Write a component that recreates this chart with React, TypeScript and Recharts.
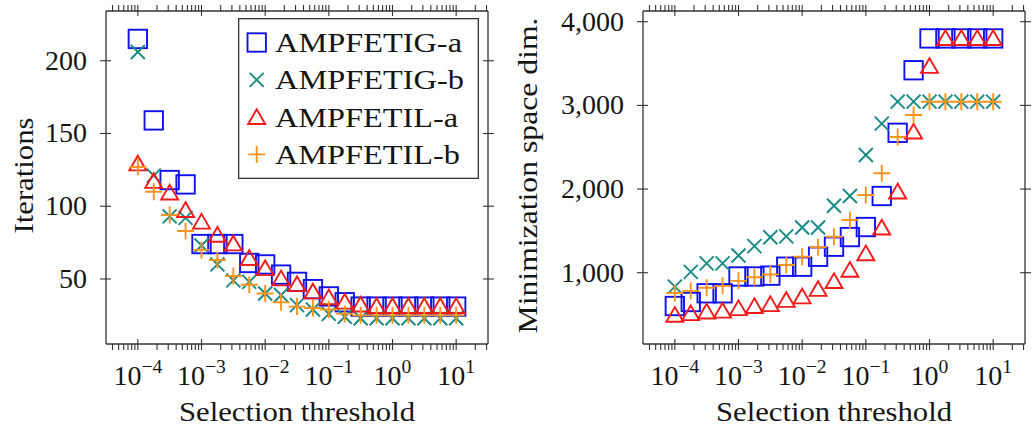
import React from 'react';
import { ScatterChart, Scatter, XAxis, YAxis, Legend, Label } from 'recharts';

// Selection thresholds (quarter-decade steps from 1e-4 to 1e1)
const thresholds = [
  1e-4, 1.778e-4, 3.162e-4, 5.623e-4,
  1e-3, 1.778e-3, 3.162e-3, 5.623e-3,
  1e-2, 1.778e-2, 3.162e-2, 5.623e-2,
  0.1, 0.1778, 0.3162, 0.5623,
  1, 1.778, 3.162, 5.623,
  10,
];

const seriesNames = ['AMPFETIG-a', 'AMPFETIG-b', 'AMPFETIL-a', 'AMPFETIL-b'];

// Iterations
const iterIGa = [215, 159, 118, 115, 74, 74, 74, 61, 60, 53, 48, 43, 38, 34, 31, 31, 31, 31, 31, 31, 31];
const iterIGb = [206, 121, 93, 92, 73, 60, 49, 48, 40, 39, 32, 29, 26, 24, 23, 23, 23, 23, 23, 23, 23];
const iterILa = [128, 116, 108, 96, 88, 79, 73, 63, 56, 49, 45, 40, 36, 33, 31, 30, 30, 30, 30, 30, 30];
const iterILb = [127, 110, 94, 83, 70, 63, 52, 46, 40, 34, 31, 30, 29, 26, 25, 25, 25, 25, 25, 25, 25];

// Minimization space dimension
const dimIGa = [602, 650, 754, 754, 955, 955, 965, 1072, 1072, 1191, 1311, 1426, 1546, 1917, 2672, 3420, 3800, 3800, 3800, 3800, 3800];
const dimIGb = [833, 1010, 1112, 1112, 1206, 1318, 1424, 1434, 1540, 1540, 1800, 1917, 2407, 2781, 3044, 3044, 3044, 3044, 3044, 3044, 3044];
const dimILa = [472, 492, 512, 522, 552, 577, 600, 650, 692, 782, 876, 1010, 1207, 1515, 1945, 2662, 3447, 3780, 3780, 3780, 3780];
const dimILb = [757, 783, 820, 843, 903, 945, 978, 1092, 1191, 1305, 1430, 1630, 1929, 2188, 2622, 2885, 3044, 3044, 3044, 3044, 3044];

// Axis ticks
const xMajorTicks = [1e-4, 1e-3, 1e-2, 1e-1, 1, 10];
const xTickExponents = ['\u22124', '\u22123', '\u22122', '\u22121', '0', '1'];
const xMinorTicks = [
  4e-5, 5e-5, 6e-5, 7e-5, 8e-5, 9e-5,
  2e-4, 3e-4, 4e-4, 5e-4, 6e-4, 7e-4, 8e-4, 9e-4,
  2e-3, 3e-3, 4e-3, 5e-3, 6e-3, 7e-3, 8e-3, 9e-3,
  2e-2, 3e-2, 4e-2, 5e-2, 6e-2, 7e-2, 8e-2, 9e-2,
  0.2, 0.3, 0.4, 0.5, 0.6, 0.7, 0.8, 0.9,
  2, 3, 4, 5, 6, 7, 8, 9,
  20, 30,
];
const iterTicks = [50, 100, 150, 200];
const iterTickLabels = ['50', '100', '150', '200'];
const dimTicks = [1000, 2000, 3000, 4000];
const dimTickLabels = ['1,000', '2,000', '3,000', '4,000'];

const X_DOMAIN: [number, number] = [3.1623e-5, 31.623];
const ITER_DOMAIN: [number, number] = [5.3, 234.2];
const DIM_DOMAIN: [number, number] = [148, 4128];

const FONT = '"Liberation Serif", "Times New Roman", serif';
const AXIS = '#333333';
const TEXT = '#151515';
const FS = 28;
const MAJOR = 11;
const MINOR = 6;

const COLORS = ['#1010ee', '#168a84', '#f01a1a', '#f7941d'];

const toPoints = (vals: number[]) => thresholds.map((x, i) => ({ x, y: vals[i] }));

// ---- markers ----
const SquareMark = ({ cx, cy, color }: any) => (
  <rect x={cx - 9.2} y={cy - 9.2} width={18.4} height={18.4} fill="none" stroke={color} strokeWidth={1.9} />
);
const CrossMark = ({ cx, cy, color }: any) => (
  <path d={`M${cx - 7},${cy - 7}L${cx + 7},${cy + 7}M${cx - 7},${cy + 7}L${cx + 7},${cy - 7}`} stroke={color} strokeWidth={1.9} fill="none" />
);
const TriangleMark = ({ cx, cy, color }: any) => {
  const r = 9.8;
  const h = 0.866 * r;
  return (
    <path d={`M${cx},${cy - r}L${cx + h},${cy + r / 2}L${cx - h},${cy + r / 2}Z`} stroke={color} strokeWidth={1.9} fill="none" strokeLinejoin="miter" />
  );
};
const PlusMark = ({ cx, cy, color }: any) => (
  <path d={`M${cx - 8.5},${cy}L${cx + 8.5},${cy}M${cx},${cy - 8.5}L${cx},${cy + 8.5}`} stroke={color} strokeWidth={1.9} fill="none" />
);
const MARKS = [SquareMark, CrossMark, TriangleMark, PlusMark];

// ---- ticks ----
const BottomTick = ({ x, y, payload }: any) => {
  const idx = xMajorTicks.indexOf(payload.value);
  const major = idx >= 0;
  return (
    <g>
      <line x1={x} x2={x} y1={y} y2={y - (major ? MAJOR : MINOR)} stroke={AXIS} strokeWidth={1.1} />
      {major && (
        <text x={x} y={y + 35} textAnchor="middle" fontFamily={FONT} fontSize={FS} fill={TEXT}>
          10
          <tspan dy={-12} fontSize={FS * 0.7}>{xTickExponents[idx]}</tspan>
        </text>
      )}
    </g>
  );
};
const TopTick = ({ x, y, payload }: any) => {
  const major = xMajorTicks.indexOf(payload.value) >= 0;
  return <line x1={x} x2={x} y1={y} y2={y + (major ? MAJOR : MINOR)} stroke={AXIS} strokeWidth={1.1} />;
};
const makeLeftTick = (ticks: number[], labels: string[]) => ({ x, y, payload }: any) => (
  <g>
    <line x1={x} x2={x + MAJOR} y1={y} y2={y} stroke={AXIS} strokeWidth={1.1} />
    <text x={x - 13} y={y + 9} textAnchor="end" fontFamily={FONT} fontSize={FS} fill={TEXT}>
      {labels[ticks.indexOf(payload.value)]}
    </text>
  </g>
);
const RightTick = ({ x, y }: any) => (
  <line x1={x} x2={x - MAJOR} y1={y} y2={y} stroke={AXIS} strokeWidth={1.1} />
);

const IterLeftTick = makeLeftTick(iterTicks, iterTickLabels);
const DimLeftTick = makeLeftTick(dimTicks, dimTickLabels);

// ---- titles ----
const XTitle = ({ viewBox }: any) => (
  <text x={viewBox.x + viewBox.width / 2} y={viewBox.y + 77} textAnchor="middle" fontFamily={FONT} fontSize={FS} fill={TEXT} textLength={236} lengthAdjust="spacingAndGlyphs">
    Selection threshold
  </text>
);
const makeYTitle = (text: string, baselineX: number, len: number) => ({ viewBox }: any) => {
  const cy = viewBox.y + viewBox.height / 2 - 2;
  return (
    <text x={baselineX} y={cy} transform={`rotate(-90 ${baselineX} ${cy})`} textAnchor="middle" fontFamily={FONT} fontSize={FS} fill={TEXT} textLength={len} lengthAdjust="spacingAndGlyphs">
      {text}
    </text>
  );
};
const IterTitle = makeYTitle('Iterations', 33, 116);
const DimTitle = makeYTitle('Minimization space dim.', 37, 316);

// ---- legend ----
const legendTextWidths = [187, 189, 183, 185];
const LegendBox = () => (
  <svg width={241} height={161} style={{ display: 'block' }}>
    <rect x={0.65} y={0.65} width={239.7} height={159.7} fill="#fff" stroke={AXIS} strokeWidth={1.3} />
    {seriesNames.map((name, i) => {
      const Mark = MARKS[i];
      const rowY = 24.5 + i * 37.3;
      return (
        <g key={name}>
          <Mark cx={18.7} cy={i === 2 ? rowY + 2 : rowY} color={COLORS[i]} />
          <text x={37} y={rowY + 9.5} fontFamily={FONT} fontSize={FS} fill={TEXT} textLength={legendTextWidths[i]} lengthAdjust="spacingAndGlyphs">
            {name}
          </text>
        </g>
      );
    })}
  </svg>
);

type PanelProps = {
  series: number[][];
  yDomain: [number, number];
  yTicks: number[];
  LeftTick: any;
  YTitle: any;
  leftWidth: number;
  rightMargin: number;
  showLegend?: boolean;
};

const Panel = ({ series, yDomain, yTicks, LeftTick, YTitle, leftWidth, rightMargin, showLegend }: PanelProps) => (
  <ScatterChart width={532} height={434} margin={{ top: 10, right: rightMargin, bottom: 0, left: 0 }}>
    <XAxis
      xAxisId="b"
      dataKey="x"
      type="number"
      scale="log"
      domain={X_DOMAIN}
      allowDataOverflow
      ticks={[...xMajorTicks, ...xMinorTicks]}
      interval={0}
      orientation="bottom"
      height={90}
      tickLine={false}
      tickMargin={0}
      tick={BottomTick}
      axisLine={{ stroke: AXIS, strokeWidth: 1.3 }}
    >
      <Label content={XTitle} />
    </XAxis>
    <XAxis
      xAxisId="t"
      dataKey="x"
      type="number"
      scale="log"
      domain={X_DOMAIN}
      allowDataOverflow
      ticks={[...xMajorTicks, ...xMinorTicks]}
      interval={0}
      orientation="top"
      height={1}
      tickLine={false}
      tickMargin={0}
      tick={TopTick}
      axisLine={{ stroke: AXIS, strokeWidth: 1.3 }}
    />
    <YAxis
      yAxisId="l"
      dataKey="y"
      type="number"
      domain={yDomain}
      allowDataOverflow
      ticks={yTicks}
      interval={0}
      orientation="left"
      width={leftWidth}
      tickLine={false}
      tickMargin={0}
      tick={LeftTick}
      axisLine={{ stroke: AXIS, strokeWidth: 1.3 }}
    >
      <Label content={YTitle} />
    </YAxis>
    <YAxis
      yAxisId="r"
      dataKey="y"
      type="number"
      domain={yDomain}
      allowDataOverflow
      ticks={yTicks}
      interval={0}
      orientation="right"
      width={1}
      tickLine={false}
      tickMargin={0}
      tick={RightTick}
      axisLine={{ stroke: AXIS, strokeWidth: 1.3 }}
    />
    {series.map((vals, i) => {
      const Mark = MARKS[i];
      return (
        <Scatter
          key={seriesNames[i]}
          name={seriesNames[i]}
          data={toPoints(vals)}
          xAxisId="b"
          yAxisId="l"
          isAnimationActive={false}
          shape={(p: any) => <Mark cx={p.cx} cy={p.cy} color={COLORS[i]} />}
        />
      );
    })}
    {showLegend && (
      <Legend
        layout="vertical"
        verticalAlign="middle"
        align="center"
        content={LegendBox}
        wrapperStyle={{ position: 'absolute', left: 238, top: 18, width: 241, height: 161, margin: 0, padding: 0 }}
      />
    )}
  </ScatterChart>
);

export default function App() {
  return (
    <div style={{ position: 'absolute', left: 0, top: 0, width: 1032, height: 434, background: '#fff', overflow: 'hidden' }}>
      <div style={{ position: 'absolute', left: 0, top: 0 }}>
        <Panel
          series={[iterIGa, iterIGb, iterILa, iterILb]}
          yDomain={ITER_DOMAIN}
          yTicks={iterTicks}
          LeftTick={IterLeftTick}
          YTitle={IterTitle}
          leftWidth={106}
          rightMargin={43}
          showLegend
        />
      </div>
      <div style={{ position: 'absolute', left: 500, top: 0 }}>
        <Panel
          series={[dimIGa, dimIGb, dimILa, dimILb]}
          yDomain={DIM_DOMAIN}
          yTicks={dimTicks}
          LeftTick={DimLeftTick}
          YTitle={DimTitle}
          leftWidth={143}
          rightMargin={6}
        />
      </div>
    </div>
  );
}
